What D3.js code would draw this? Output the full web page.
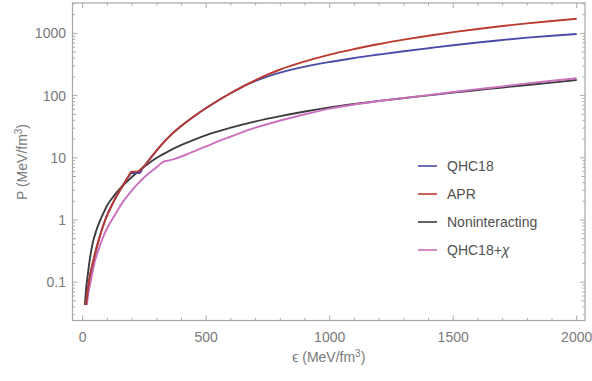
<!DOCTYPE html>
<html><head><meta charset="utf-8">
<script src="https://cdn.jsdelivr.net/npm/d3@7"></script>
<style>body{margin:0;background:#fff}svg{display:block}text{font-family:"Liberation Sans",Arial,sans-serif}</style>
</head><body><svg id="c" width="592" height="381"></svg>
<script>
// ---- data ----
const seriesNames = ["QHC18", "APR", "Noninteracting", "QHC18+χ"];
const seriesColors = ["#4b4ba8", "#bb3a2e", "#3d3d3d", "#cc70c0"];

const epsAPR = [13,24,44,65,91,125,159,185,197,225,236,250,275,300,325,350,400,450,500,550,600,650,700,750,800,900,1000,1100,1200,1300,1400,1500,1600,1700,1800,1900,2000];
const pAPR   = [0.043,0.096,0.229,0.479,1.0,1.97,3.39,5.0,6.0,6.0,6.6,7.4,10.0,13.2,17.2,21.9,32.7,46.2,63.1,84.1,110,141,178,219,263,355,457,562,676,794,918,1047,1180,1318,1452,1585,1718];

const epsQHC = [13,24,44,65,91,125,159,185,199,232,242,250,275,300,325,350,400,450,500,550,600,650,700,750,800,900,1000,1100,1200,1300,1400,1500,1600,1700,1800,1900,2000];
const pQHC   = [0.043,0.096,0.229,0.479,1.0,1.97,3.39,5.0,5.7,5.7,6.8,7.4,10.0,13.2,17.2,21.9,32.7,46.2,63.1,84.1,110,141,172,204,234,292,347,403,457,516,578,646,716,785,855,918,977];

const epsFree = [9,14,20,30,40,55,70,85,100,125,150,200,250,300,350,400,450,500,600,700,800,900,1000,1100,1200,1300,1400,1500,1600,1700,1800,1900,2000];
const pFree   = [0.043,0.079,0.126,0.251,0.417,0.676,0.977,1.32,1.74,2.40,3.16,4.95,7.24,10.0,12.9,16.1,19.5,23.2,30.5,38.5,46.8,55.6,64.6,73.3,82.2,91.2,101,112,123,135,148,162,178];

const epsChi = [17,24,31,40,51,65,78,95,118,140,159,180,205,225,245,265,286,305,326,350,373,394,420,450,500,550,600,650,700,800,900,1000,1100,1200,1300,1400,1500,1600,1700,1800,1900,2000];
const pChi   = [0.043,0.071,0.096,0.145,0.229,0.34,0.479,0.69,1.0,1.4,1.85,2.4,3.2,3.9,4.7,5.5,6.4,7.4,8.6,9.1,9.6,10.3,11.3,12.7,15.3,18.5,22.0,26.2,30.5,39.8,50.1,61.7,72.1,81.8,91.8,102,114,127,141,157,173,190];

const xTicks = [0,500,1000,1500,2000];
const yTicks = [0.1,1,10,100,1000];
const yTickLabels = ["0.1","1","10","100","1000"];

// ---- layout ----
const svg = d3.select("#c");
const L=72.5, R=585, T=3, B=320.5;
const x = d3.scaleLinear().domain([0,2000]).range([82.7,576.7]);
const y = d3.scaleLog().domain([Math.pow(10,-1.616), Math.pow(10,3.489)]).range([B,T]);
const frameCol="#a8a8a8", labCol="#7a7a7a";

// frame
svg.append("rect").attr("x",L).attr("y",T).attr("width",R-L).attr("height",B-T)
  .attr("fill","none").attr("stroke",frameCol).attr("stroke-width",1.2);

// x ticks (bottom & top)
d3.range(0,2001,100).forEach(v=>{
  const major = v%500===0, len = major?5:2.5;
  svg.append("line").attr("x1",x(v)).attr("x2",x(v)).attr("y1",B).attr("y2",B-len).attr("stroke",frameCol);
  svg.append("line").attr("x1",x(v)).attr("x2",x(v)).attr("y1",T).attr("y2",T+len).attr("stroke",frameCol);
});
xTicks.forEach(v=>{
  svg.append("text").attr("x",x(v)).attr("y",342).attr("text-anchor","middle")
    .attr("font-size",14).attr("fill",labCol).text(d3.format("d")(v));
});
// y ticks (left & right)
const [y0,y1] = y.domain();
for(let e=-2;e<=3;e++){
  for(let m=1;m<=9;m++){
    const v=m*Math.pow(10,e);
    if(v<y0||v>y1) continue;
    const len = m===1?5:(m===5?3.5:2.5);
    svg.append("line").attr("x1",L).attr("x2",L+len).attr("y1",y(v)).attr("y2",y(v)).attr("stroke",frameCol);
    svg.append("line").attr("x1",R).attr("x2",R-len).attr("y1",y(v)).attr("y2",y(v)).attr("stroke",frameCol);
  }
}
yTicks.forEach((v,i)=>{
  svg.append("text").attr("x",66).attr("y",y(v)).attr("dy","0.35em").attr("text-anchor","end")
    .attr("font-size",14).attr("fill",labCol).text(yTickLabels[i]);
});

// axis titles
const xt = svg.append("text").attr("x",(L+R)/2).attr("y",362).attr("text-anchor","middle")
  .attr("font-size",14).attr("fill",labCol);
xt.append("tspan").text("ϵ (MeV/fm");
xt.append("tspan").attr("dy",-5).attr("font-size",10).text("3");
xt.append("tspan").attr("dy",5).text(")");
const yt = svg.append("text").attr("transform","translate(27,162) rotate(-90)").attr("text-anchor","middle")
  .attr("font-size",14).attr("fill",labCol);
yt.append("tspan").text("P (MeV/fm");
yt.append("tspan").attr("dy",-5).attr("font-size",10).text("3");
yt.append("tspan").attr("dy",5).text(")");

// curves
const data = [
  {e:epsQHC, p:pQHC},
  {e:epsAPR, p:pAPR},
  {e:epsFree, p:pFree},
  {e:epsChi, p:pChi}
];
const line = d3.line().x(d=>x(d[0])).y(d=>y(d[1])).curve(d3.curveMonotoneX);
[2,3,0,1].forEach(i=>{
  const pts = data[i].e.map((v,j)=>[v,data[i].p[j]]);
  svg.append("path").attr("d",line(pts)).attr("fill","none")
    .attr("stroke",seriesColors[i]).attr("stroke-width",1.9).attr("stroke-linejoin","round");
});

// legend
const legY=[166,194,222,250];
seriesNames.forEach((n,i)=>{
  svg.append("line").attr("x1",418).attr("x2",437).attr("y1",legY[i]).attr("y2",legY[i])
    .attr("stroke",seriesColors[i]).attr("stroke-width",1.6);
  const t = svg.append("text").attr("x",447).attr("y",legY[i]).attr("dy","0.35em")
    .attr("font-size",14).attr("fill","#505050");
  if(n==="QHC18+χ"){ t.append("tspan").text("QHC18+"); t.append("tspan").attr("font-style","italic").text("χ"); }
  else t.text(n);
});
</script></body></html>
